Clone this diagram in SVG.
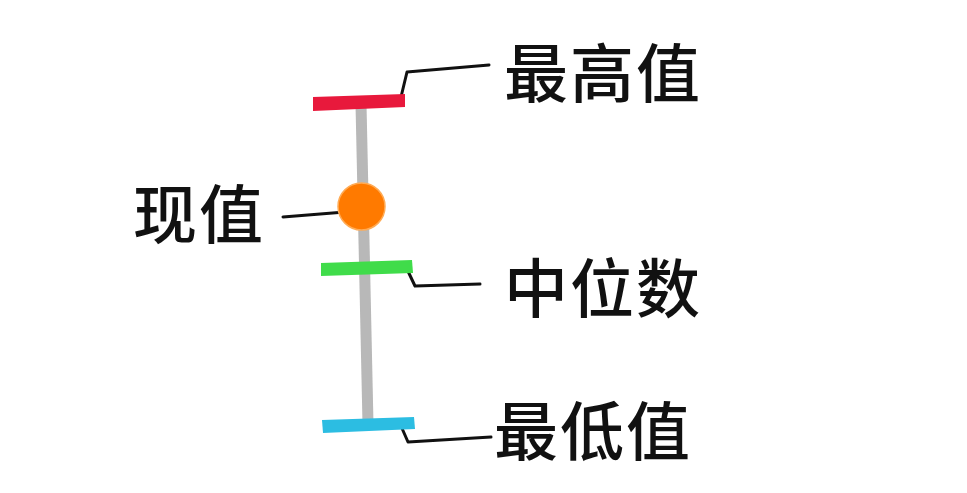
<svg xmlns="http://www.w3.org/2000/svg" width="967" height="493" viewBox="0 0 967 493">
<style>
.lbl{font-family:"Noto Sans CJK SC","Noto Sans CJK JP",sans-serif;font-size:64px;font-weight:500;fill:#111;letter-spacing:2px}
.lead{fill:none;stroke:#111;stroke-width:3;stroke-linejoin:round;stroke-linecap:round}
</style>
<rect width="967" height="493" fill="#fff"/>
<g id="axis"><line x1="361" y1="104" x2="368" y2="424" stroke="#b8b8b8" stroke-width="11"/></g>
<g id="connectors">
<polyline class="lead" points="401,97 407,72 489,65"/>
<polyline class="lead" points="283,217 345,212"/>
<polyline class="lead" points="406,267 415,286 480,284"/>
<polyline class="lead" points="401,426 408,442 491,437"/>
</g>
<g id="max"><polygon points="313,97 405,94 405,107 313,111" fill="#e8193c"/><text class="lbl" x="504" y="97">最高值</text></g>
<g id="current"><circle cx="361.5" cy="206.5" r="23.5" fill="#ff7a00" stroke="#ffab55" stroke-width="1.5"/><text class="lbl" x="133" y="238">现值</text></g>
<g id="median"><polygon points="321,263 412,260 413,273 321,276" fill="#40dc4a"/><text class="lbl" x="504" y="312">中位数</text></g>
<g id="min"><polygon points="322,420 414,417 415,429 323,433" fill="#2cbde2"/><text class="lbl" x="494" y="455">最低值</text></g>
</svg>
